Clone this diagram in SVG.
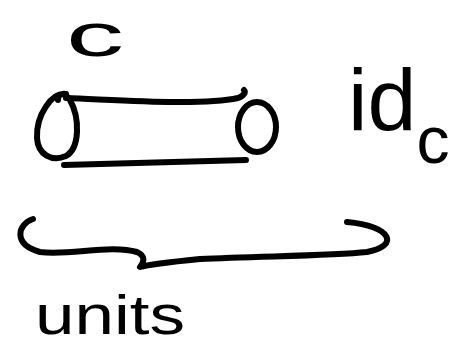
<svg xmlns="http://www.w3.org/2000/svg" width="458" height="345" viewBox="0 0 458 345">
<style>
.ink{fill:none;stroke:#000;stroke-width:6;stroke-linecap:round;stroke-linejoin:round}
.t{font-family:"Liberation Sans",Arial,sans-serif;fill:#000}
</style>
<rect width="458" height="345" fill="#fff"/>
<g id="label-c"><text class="t" x="66" y="56" font-size="62" textLength="58" lengthAdjust="spacingAndGlyphs">c</text></g>
<g id="cylinder">
<path class="ink" d="M66,94 C52,92 36,115 37,138 C38,155 52,162 66,156 C80,148 80,118 70,100 C66,93 58,92 58,100"/>
<ellipse class="ink" cx="257" cy="127" rx="19" ry="25"/>
<path class="ink" d="M66,98 C120,100 200,106 238,98 C244,96 246,92 244,90"/>
<path class="ink" d="M64,165 L246,160"/>
</g>
<g id="label-idc"><text class="t" x="348" y="130" font-size="88">id<tspan font-size="66" dy="33" dx="0">c</tspan></text></g>
<g id="connectors">
<path class="ink" d="M33,219 C18,224 12,244 40,252 C70,256 110,244 137,252 C146,256 144,262 140,267 C150,264 170,262 200,259 C260,256 330,256 367,252 C400,246 392,226 347,222"/>
</g>
<g id="label-units"><text class="t" x="35" y="334" font-size="56" textLength="150" lengthAdjust="spacingAndGlyphs">units</text></g>
</svg>
